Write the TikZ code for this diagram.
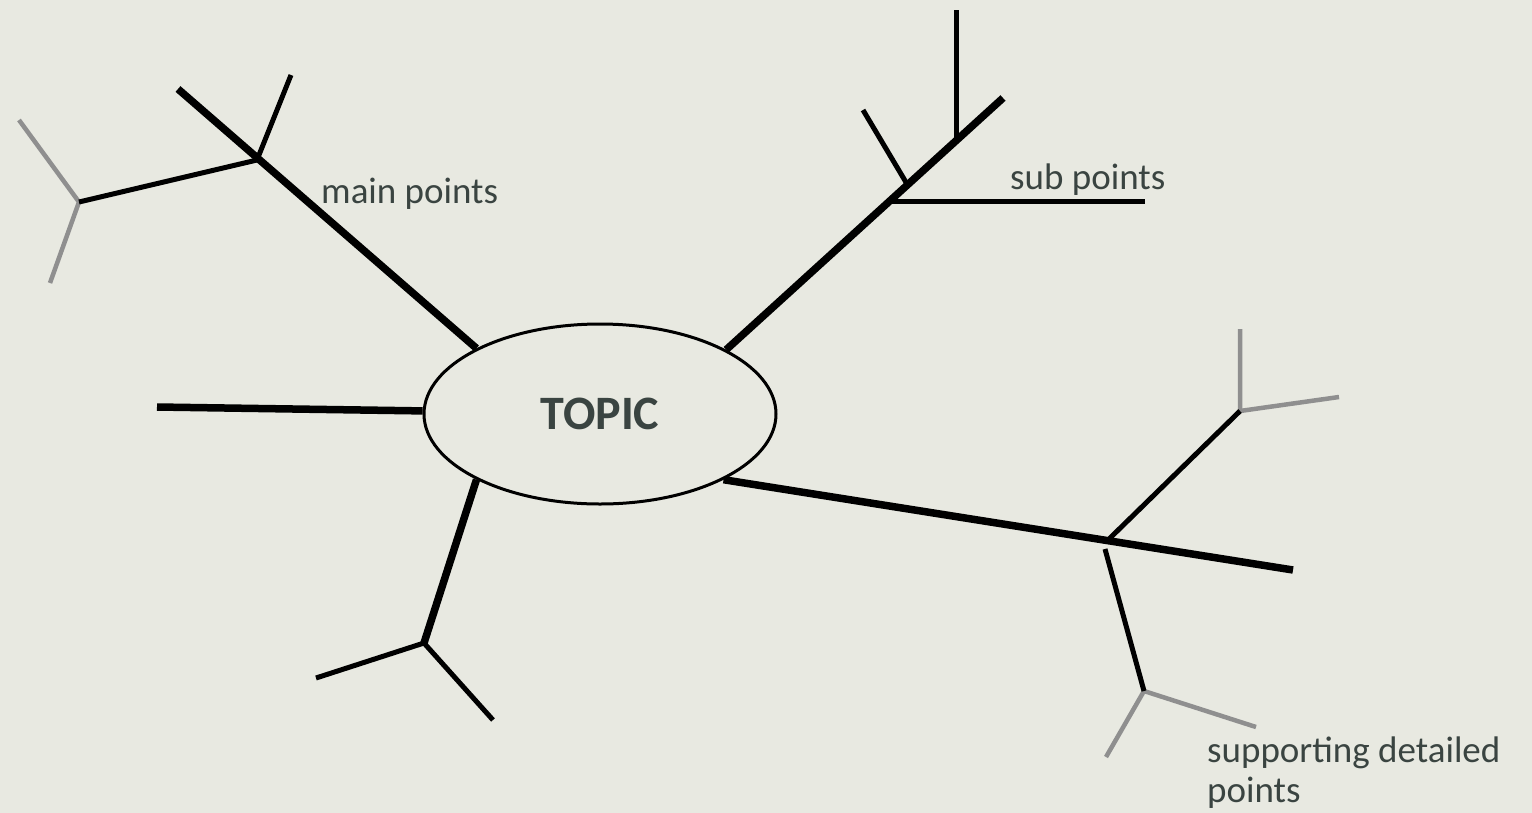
\documentclass[tikz,border=0pt]{standalone}
\usepackage{fontspec}
\setmainfont{Carlito}
\usetikzlibrary{shapes.geometric}
\definecolor{bgpaper}{RGB}{232,233,225}
\definecolor{labeltext}{RGB}{58,68,65}
\definecolor{twig}{RGB}{143,143,143}
\tikzset{
  limb/.style={line width=7.5pt},
  branch/.style={line width=5pt},
  twigline/.style={line width=4.5pt, twig},
  lbl/.style={inner sep=0pt, text=labeltext, font=\fontsize{37}{40}\selectfont}
}

\begin{document}
\begin{tikzpicture}[x=1pt,y=-1pt]

    \useasboundingbox (0,0) rectangle (1532,812);
    \fill[bgpaper] (-4,-4) rectangle (1536,816);

    \node (topic) [draw, line width=3pt, ellipse, minimum width=352pt, minimum height=180pt, inner sep=0pt, text=labeltext, font=\bfseries\fontsize{48}{52}\selectfont] at (600,414) {TOPIC};

    % upper left
    \coordinate (ul) at (178,89);
    \coordinate (ulk) at (257,160);
    \coordinate (ulup) at (291,75);
    \coordinate (ulleft) at (79,202);
    \coordinate (ulg1) at (19,120);
    \coordinate (ulg2) at (50,283);
    \draw[twigline] (ulg1) -- (ulleft) -- (ulg2);
    \draw[limb] (topic.152) -- (ul);
    \draw[branch] (ulk) -- (ulup);
    \draw[branch] (ulk) -- (ulleft);

    % upper right
    \coordinate (ur) at (1003,98);
    \coordinate (urv) at (956,140);
    \coordinate (urvtop) at (956,10);
    \coordinate (urk) at (907,184);
    \coordinate (urkend) at (863,110);
    \coordinate (urh) at (888,201);
    \coordinate (urhend) at (1145,201);
    \draw[limb] (topic.27) -- (ur);
    \draw[branch] (urv) -- (urvtop);
    \draw[branch] (urk) -- (urkend);
    \draw[branch] (urh) -- (urhend);

    % left
    \coordinate (lt) at (157,407);
    \draw[limb] (topic.179) -- (lt);

    % lower left
    \coordinate (ll) at (424,643);
    \coordinate (lla) at (316,678);
    \coordinate (llb) at (493,720);
    \draw[limb] (topic.208) -- (ll);
    \draw[branch] (lla) -- (ll) -- (llb);

    % lower right
    \coordinate (lr) at (1293,570);
    \coordinate (lrk) at (1108,540);
    \coordinate (lrup) at (1240,411);
    \coordinate (lrg1) at (1240,329);
    \coordinate (lrg2) at (1339,397);
    \coordinate (lrd) at (1105,549);
    \coordinate (lrdown) at (1144,691);
    \coordinate (lrg3) at (1256,727);
    \coordinate (lrg4) at (1106,757);
    \draw[twigline] (lrg1) -- (lrup) -- (lrg2);
    \draw[twigline] (lrg3) -- (lrdown) -- (lrg4);
    \draw[limb] (topic.332) -- (lr);
    \draw[branch] (lrk) -- (lrup);
    \draw[branch] (lrd) -- (lrdown);

    \node (mainlbl) [lbl, anchor=base west] at (321,203) {main points};
    \node (sublbl) [lbl, anchor=base west] at (1010,189) {sub points};
    \node (detaillbl) [lbl, anchor=north west, align=left] at (1207,737) {supporting detailed\\points};

\end{tikzpicture}
\end{document}
